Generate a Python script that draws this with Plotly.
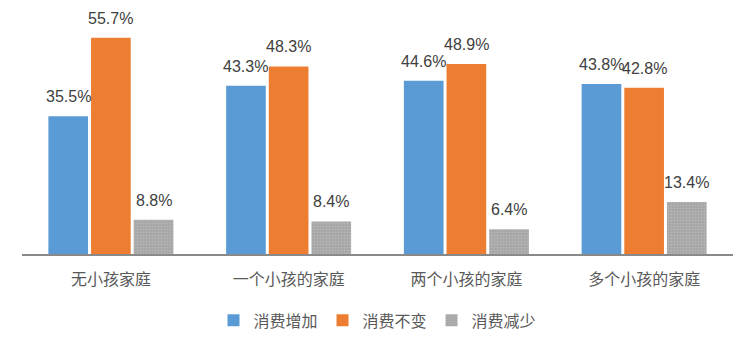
import plotly.graph_objects as go

categories = ["无小孩家庭", "一个小孩的家庭", "两个小孩的家庭", "多个小孩的家庭"]
series_names = ["消费增加", "消费不变", "消费减少"]
increase = [35.5, 43.3, 44.6, 43.8]
unchanged = [55.7, 48.3, 48.9, 42.8]
decrease = [8.8, 8.4, 6.4, 13.4]
colors = ["#5B9BD5", "#ED7D31", "#A5A5A5"]

bargap = 0.28
bargroupgap = 0.07
series = [increase, unchanged, decrease]
n = len(series)
slot = (1 - bargap) / n

fig = go.Figure()
annotations = []
for j, (name, vals, col) in enumerate(zip(series_names, series, colors)):
    marker = dict(color=col, line=dict(width=0))
    if name == "消费减少":
        marker["pattern"] = dict(shape=".", fgcolor="#C8C8C8", bgcolor=col, size=3, solidity=0.4)
    fig.add_trace(go.Bar(x=categories, y=vals, name=name, marker=marker))
    for i, v in enumerate(vals):
        annotations.append(dict(
            x=i + (j - (n - 1) / 2) * slot, y=v, xref="x", yref="y",
            text=f"{v:.1f}%", showarrow=False, yanchor="bottom", yshift=9,
            font=dict(family="Liberation Sans, Arial", size=16, color="#404040"),
        ))

fig.update_layout(
    width=750, height=351,
    margin=dict(l=22, r=17, t=21, b=97),
    paper_bgcolor="white", plot_bgcolor="white",
    barmode="group", bargap=bargap, bargroupgap=bargroupgap,
    showlegend=True,
    annotations=annotations,
    legend=dict(orientation="h", x=0.5, xanchor="center", y=-0.285, yanchor="middle",
                font=dict(family="Noto Sans CJK SC", size=16, color="#595959"),
                itemwidth=30, traceorder="normal"),
    xaxis=dict(showline=True, linecolor="#898989", linewidth=2,
               ticks="outside", ticklen=10, tickcolor="rgba(0,0,0,0)",
               tickfont=dict(family="Noto Sans CJK SC", size=16, color="#595959")),
    yaxis=dict(range=[0, 60], visible=False, showgrid=False, zeroline=False),
)
fig.write_html("out.html")
